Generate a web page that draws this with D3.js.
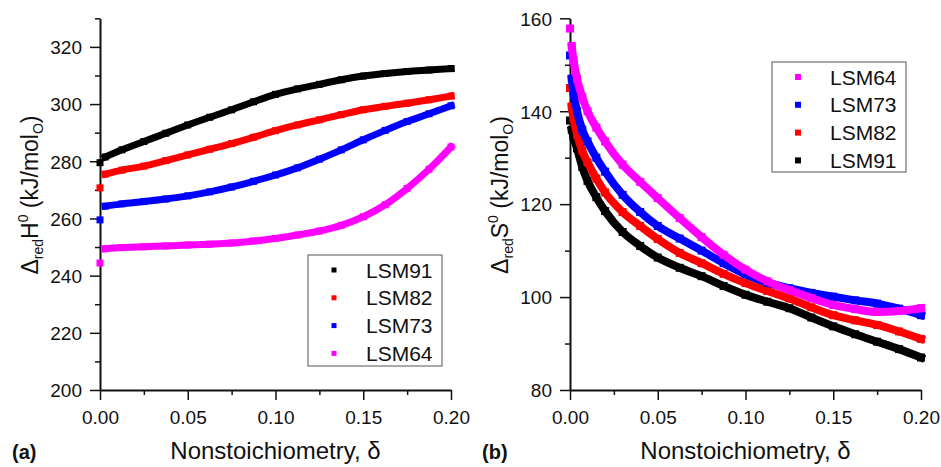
<!DOCTYPE html>
<html>
<head>
    <meta charset="utf-8">
    <style>
        body { margin: 0; background: #fff; }
        svg { display: block; font-family: "Liberation Sans", Arial, sans-serif; }
        .axis path, .axis line { stroke: #111; }
        .axis text { font-size: 19px; fill: #111; }
        .legend text { font-size: 21px; fill: #111; }
    </style>
</head>
<body>
    <div id="container"></div>
    <script src="https://cdn.jsdelivr.net/npm/d3@7"></script>
    <script>
        // panel (a): enthalpy vs delta
        const deltaH = [0, 0.003, 0.0125, 0.025, 0.0375, 0.05, 0.0625, 0.075, 0.0875, 0.1, 0.1125, 0.125, 0.1375, 0.15, 0.1625, 0.175, 0.1875, 0.2];
        const hLSM91 = [279.5, 281.5, 284, 286.9, 289.8, 292.7, 295.4, 298, 300.8, 303.4, 305.3, 306.9, 308.5, 309.8, 310.7, 311.4, 311.9, 312.4];
        const hLSM82 = [270.7, 275.5, 276.9, 278.3, 280.2, 282.2, 284.2, 286.2, 288.4, 290.7, 292.7, 294.5, 296.3, 298, 299.2, 300.3, 301.5, 302.8];
        const hLSM73 = [259.5, 264.3, 265.1, 265.9, 266.8, 267.9, 269.3, 271, 273, 275.2, 277.7, 280.7, 284, 287.5, 290.8, 293.9, 296.6, 299.4];
        const hLSM64 = [244.4, 249.4, 249.8, 250.1, 250.4, 250.7, 251, 251.4, 252.1, 253, 254.2, 255.6, 257.6, 260.6, 264.8, 270.5, 277.2, 285];

        // panel (b): entropy vs delta
        const deltaS = [0, 0.001, 0.002, 0.004, 0.007, 0.01, 0.015, 0.02, 0.03, 0.04, 0.05, 0.0625, 0.075, 0.0875, 0.1, 0.1125, 0.125, 0.1375, 0.15, 0.1625, 0.175, 0.1875, 0.2];
        const sLSM91 = [138, 136, 134.5, 132, 128, 125, 121.5, 118.5, 114, 111, 108.5, 106.3, 104.5, 102.4, 100.5, 99, 97.6, 95.6, 93.7, 92, 90.4, 88.8, 87];
        const sLSM82 = [145, 141, 138.5, 135, 131.5, 129, 125.5, 122.5, 118.3, 115.3, 112.5, 109.5, 107.3, 105, 103, 101.3, 99.7, 97.8, 96.1, 95, 94, 92.6, 91];
        const sLSM73 = [152, 147, 144, 140, 136, 133.5, 130, 127, 122, 118.3, 115.3, 112.6, 110, 107.3, 104.9, 103.1, 101.9, 100.9, 100.1, 99.3, 98.6, 97.5, 96.1];
        const sLSM64 = [157.8, 154, 151, 147, 143, 140, 136.5, 133.5, 128.5, 124.8, 121.3, 117, 112.9, 109.1, 105.9, 103.4, 101.5, 99.8, 98.3, 97.4, 96.8, 97, 97.6];

        const names = ["LSM91", "LSM82", "LSM73", "LSM64"];
        const colors = ["#000000", "#ff0000", "#0000ff", "#ff00ff"];

        const hTicks = [200, 220, 240, 260, 280, 300, 320];
        const sTicks = [80, 100, 120, 140, 160];
        const xTicks = [0, 0.05, 0.1, 0.15, 0.2];

        const width = 941, height = 467;

        const svg = d3.select("#container").append("svg")
            .attr("width", width)
            .attr("height", height);

        function panel(opt) {
            const x = d3.scaleLinear().domain([0, 0.2]).range([opt.left, opt.left + 351]);
            const y = d3.scaleLinear().domain(opt.ydomain).range([390, opt.ytop]);
            const g = svg.append("g");

            // minor ticks
            g.append("g").attr("class", "axis")
                .attr("transform", "translate(0,390)")
                .call(d3.axisBottom(x).tickValues(d3.range(0.025, 0.2, 0.05)).tickSize(5).tickFormat("").tickSizeOuter(0))
                .call(a => a.select(".domain").remove())
                .selectAll("line").attr("stroke-width", 1.5);
            g.append("g").attr("class", "axis")
                .attr("transform", `translate(${opt.left},0)`)
                .call(d3.axisLeft(y).tickValues(opt.minor).tickSize(5).tickFormat("").tickSizeOuter(0))
                .call(a => a.select(".domain").remove())
                .selectAll("line").attr("stroke-width", 1.5);

            // major axes
            const xa = g.append("g").attr("class", "axis")
                .attr("transform", "translate(0,390)")
                .call(d3.axisBottom(x).tickValues(xTicks).tickSize(10).tickSizeOuter(0).tickPadding(6)
                    .tickFormat(d3.format(".2f")));
            xa.select(".domain").attr("stroke-width", 2);
            xa.selectAll("line").attr("stroke-width", 1.5);
            xa.selectAll("text").attr("dy", "0.95em");

            const ya = g.append("g").attr("class", "axis")
                .attr("transform", `translate(${opt.left},0)`)
                .call(d3.axisLeft(y).tickValues(opt.ticks).tickSize(10).tickSizeOuter(0).tickPadding(8));
            ya.select(".domain").attr("stroke-width", 2);
            ya.selectAll("line").attr("stroke-width", 1.5);
            ya.selectAll("text").attr("dy", "0.36em");

            // data: dense square markers look like thick bands
            const line = d3.line().x(d => x(d[0])).y(d => y(d[1])).curve(d3.curveMonotoneX);
            opt.series.forEach((vals, i) => {
                const pts = opt.delta.map((d, j) => [d, vals[j]]);
                g.append("path")
                    .attr("d", line(pts.slice(1)))
                    .attr("fill", "none")
                    .attr("stroke", colors[i])
                    .attr("stroke-width", opt.band)
                    .attr("stroke-linecap", "square");
                g.append("g").selectAll("rect")
                    .data(pts)
                    .join("rect")
                    .attr("x", d => x(d[0]) - opt.band / 2)
                    .attr("y", d => y(d[1]) - opt.band / 2)
                    .attr("width", opt.band)
                    .attr("height", opt.band)
                    .attr("fill", colors[i]);
            });

            // axis titles
            g.append("text")
                .attr("x", (x(0) + x(0.2)) / 2)
                .attr("y", 459)
                .attr("text-anchor", "middle")
                .attr("font-size", 24)
                .attr("fill", "#111")
                .text("Nonstoichiometry, δ");

            const yt = g.append("text")
                .attr("transform", `translate(${opt.left - 62},195) rotate(-90)`)
                .attr("text-anchor", "middle")
                .attr("font-size", 23)
                .attr("fill", "#111");
            yt.append("tspan").text("Δ");
            yt.append("tspan").attr("font-size", 14).attr("dy", 5).text("red");
            yt.append("tspan").attr("dy", -5).text(opt.sym);
            yt.append("tspan").attr("font-size", 14).attr("dy", -10).text("0");
            yt.append("tspan").attr("dy", 10).text(" (kJ/mol");
            yt.append("tspan").attr("font-size", 14).attr("dy", 5).text("O");
            yt.append("tspan").attr("dy", -5).text(")");

            g.append("text")
                .attr("x", opt.left - 88)
                .attr("y", 459)
                .attr("font-size", 20)
                .attr("font-weight", "bold")
                .attr("fill", "#111")
                .text(opt.tag);

            // legend
            const lg = g.append("g").attr("class", "legend");
            lg.append("rect")
                .attr("x", opt.leg[0]).attr("y", opt.leg[1])
                .attr("width", 134).attr("height", opt.leg[2])
                .attr("fill", "#fff").attr("stroke", "#555").attr("stroke-width", 1);
            opt.legOrder.forEach((k, r) => {
                const cy = opt.leg[1] + 15 + r * 27.8;
                lg.append("rect")
                    .attr("x", opt.leg[0] + 26 - opt.mk / 2).attr("y", cy - opt.mk / 2)
                    .attr("width", opt.mk).attr("height", opt.mk)
                    .attr("fill", colors[k]);
                lg.append("text")
                    .attr("x", opt.leg[0] + 58).attr("y", cy + 7.5)
                    .text(names[k]);
            });
        }

        panel({
            left: 100, ydomain: [200, 330], ytop: 18.3,
            ticks: hTicks, minor: d3.range(210, 331, 20),
            delta: deltaH, series: [hLSM91, hLSM82, hLSM73, hLSM64],
            band: 7, sym: "H", tag: "(a)",
            leg: [308, 255, 111], legOrder: [0, 1, 2, 3], mk: 5
        });

        panel({
            left: 570, ydomain: [80, 160], ytop: 18.3,
            ticks: sTicks, minor: [90, 110, 130, 150],
            delta: deltaS, series: [sLSM91, sLSM82, sLSM73, sLSM64],
            band: 8, sym: "S", tag: "(b)",
            leg: [772, 62, 110], legOrder: [3, 2, 1, 0], mk: 6
        });
    </script>
</body>
</html>
